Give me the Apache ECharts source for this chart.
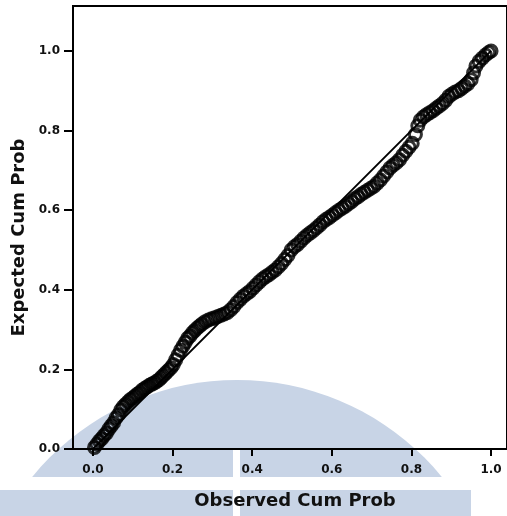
<!DOCTYPE html>
<html>
<head>
<meta charset="utf-8">
<script src="https://cdn.jsdelivr.net/npm/echarts@6/dist/echarts.min.js"></script>
<style>
  html, body { margin: 0; padding: 0; background: #fff; }
  #main { width: 507px; height: 516px; }
</style>
</head>
<body>
<div id="main"></div>
<script>
// P-P plot values
var observed = [0.004,0.010,0.016,0.022,0.028,0.034,0.040,0.046,0.052,0.058,0.064,0.070,0.076,0.082,0.088,0.094,0.100,0.106,0.112,0.118,
  0.124,0.130,0.136,0.142,0.148,0.154,0.160,0.166,0.172,0.178,0.184,0.190,0.196,0.202,0.208,0.214,0.220,0.226,0.232,0.238,
  0.244,0.250,0.256,0.262,0.268,0.274,0.282,0.290,0.298,0.306,0.314,0.322,0.330,0.338,0.346,0.354,0.362,0.370,0.378,0.386,
  0.394,0.402,0.410,0.418,0.426,0.434,0.442,0.450,0.458,0.466,0.474,0.482,0.490,0.498,0.506,0.514,0.522,0.530,0.538,0.546,
  0.554,0.562,0.570,0.578,0.586,0.594,0.602,0.610,0.618,0.626,0.634,0.642,0.650,0.658,0.666,0.674,0.682,0.690,0.698,0.706,
  0.714,0.722,0.730,0.738,0.746,0.754,0.762,0.770,0.778,0.786,0.794,0.802,0.810,0.816,0.822,0.830,0.838,0.846,0.854,0.862,
  0.870,0.878,0.886,0.894,0.902,0.910,0.918,0.926,0.934,0.942,0.950,0.956,0.962,0.970,0.978,0.986,0.994,1.000];
var expected = [0.004,0.012,0.020,0.026,0.034,0.040,0.050,0.058,0.066,0.078,0.086,0.098,0.106,0.112,0.118,0.124,0.128,0.133,0.138,0.142,
  0.148,0.152,0.156,0.160,0.163,0.166,0.170,0.174,0.180,0.186,0.192,0.198,0.204,0.212,0.224,0.236,0.248,0.258,0.268,0.278,
  0.284,0.292,0.298,0.304,0.309,0.314,0.320,0.324,0.327,0.330,0.333,0.336,0.339,0.343,0.350,0.358,0.368,0.376,0.384,0.390,
  0.396,0.404,0.412,0.420,0.427,0.433,0.438,0.444,0.450,0.458,0.466,0.476,0.486,0.500,0.508,0.514,0.522,0.530,0.537,0.543,
  0.549,0.556,0.563,0.571,0.577,0.582,0.588,0.594,0.600,0.605,0.610,0.616,0.622,0.629,0.634,0.640,0.645,0.650,0.655,0.660,
  0.668,0.676,0.686,0.696,0.706,0.713,0.719,0.727,0.738,0.748,0.758,0.768,0.790,0.812,0.826,0.834,0.840,0.845,0.850,0.856,
  0.862,0.868,0.876,0.886,0.892,0.897,0.900,0.906,0.912,0.918,0.928,0.945,0.962,0.974,0.982,0.990,0.996,1.000];
var tickValues = [0, 0.2, 0.4, 0.6, 0.8, 1.0];
var refLine = [[0, 0], [1, 1]];

var points = observed.map(function (x, i) { return [x, expected[i]]; });

var chart = echarts.init(document.getElementById('main'));
var wm = '#c8d4e6';
var font = 'DejaVu Sans';

var option = {
    backgroundColor: '#fff',
    animation: false,
    grid: {
        left: 73,
        top: 6,
        right: -4,
        bottom: 67,
        show: true,
        borderColor: '#000',
        borderWidth: 2,
        backgroundColor: 'transparent'
    },
    graphic: [
        // faint watermark behind the plot
        {type: 'circle', z: -10, silent: true, shape: {cx: 237, cy: 645, r: 265}, style: {fill: wm}},
        {type: 'rect', z: -9, silent: true, shape: {x: 0, y: 477, width: 507, height: 13}, style: {fill: '#fff'}},
        {type: 'rect', z: -9, silent: true, shape: {x: 0, y: 490, width: 471, height: 26}, style: {fill: wm}},
        {type: 'rect', z: -8, silent: true, shape: {x: 233, y: 450, width: 7, height: 66}, style: {fill: '#fff'}}
    ],
    xAxis: {
        type: 'value',
        min: -0.05,
        max: 1.04,
        name: 'Observed Cum Prob',
        nameLocation: 'middle',
        nameGap: 43,
        nameTextStyle: {fontFamily: font, fontWeight: 'bold', fontSize: 18, color: '#111', padding: [0, 0, 0, 10]},
        splitLine: {show: false},
        axisLine: {show: true, onZero: false, lineStyle: {color: '#000', width: 2}},
        axisTick: {show: true, customValues: tickValues, length: 7, lineStyle: {color: '#000', width: 2}},
        axisLabel: {
            customValues: tickValues,
            margin: 15,
            fontFamily: font,
            fontWeight: 'bold',
            fontSize: 12,
            color: '#111',
            formatter: function (v) { return v.toFixed(1); }
        }
    },
    yAxis: {
        type: 'value',
        min: 0,
        max: 1.113,
        name: 'Expected Cum Prob',
        nameLocation: 'middle',
        nameRotate: 90,
        nameGap: 42,
        nameTextStyle: {fontFamily: font, fontWeight: 'bold', fontSize: 18, color: '#111', padding: [0, 20, 0, 0]},
        splitLine: {show: false},
        axisLine: {show: true, onZero: false, lineStyle: {color: '#000', width: 2}},
        axisTick: {show: true, customValues: tickValues, length: 9, lineStyle: {color: '#000', width: 2}},
        axisLabel: {
            customValues: tickValues,
            margin: 13,
            fontFamily: font,
            fontWeight: 'bold',
            fontSize: 12,
            color: '#111',
            formatter: function (v) { return v.toFixed(1); }
        }
    },
    series: [
        {
            type: 'line',
            data: refLine,
            symbol: 'none',
            lineStyle: {color: '#000', width: 1.8},
            z: 3
        },
        {
            type: 'scatter',
            data: points,
            symbol: 'circle',
            symbolSize: 12,
            itemStyle: {color: 'rgba(255,255,255,0)', borderColor: '#000', borderWidth: 3},
            z: 4
        }
    ]
};

chart.setOption(option);
</script>
</body>
</html>
